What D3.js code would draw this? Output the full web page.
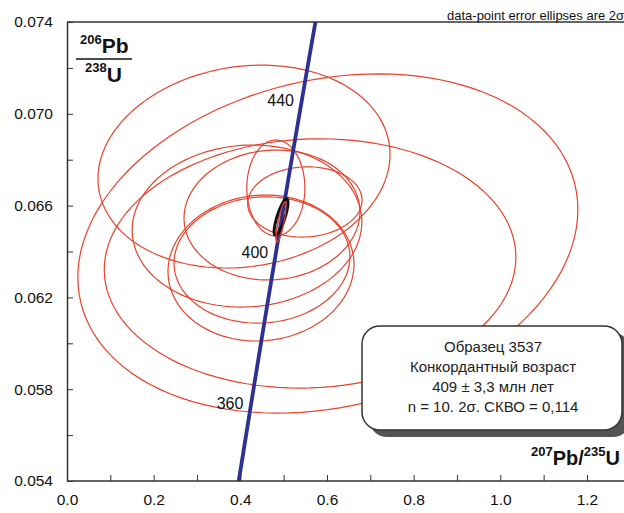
<!DOCTYPE html>
<html>
<head>
<meta charset="utf-8">
<script src="https://cdn.jsdelivr.net/npm/d3@7"></script>
<style>
  html, body { margin: 0; padding: 0; background: #fff; }
  svg { display: block; font-family: "Liberation Sans", Arial, sans-serif; }
</style>
</head>
<body>
<svg id="chart" width="624" height="513"></svg>
<script>
// ---- data ----
const xMajorTicks = [0.0, 0.2, 0.4, 0.6, 0.8, 1.0, 1.2];
const xMinorTicks = [0.0, 0.1, 0.2, 0.3, 0.4, 0.5, 0.6, 0.7, 0.8, 0.9, 1.0, 1.1, 1.2];
const yMajorTicks = [0.054, 0.058, 0.062, 0.066, 0.070, 0.074];
const yMinorTicks = [0.054, 0.056, 0.058, 0.060, 0.062, 0.064, 0.066, 0.068, 0.070, 0.072, 0.074];

// concordia curve (age Ma, 207Pb/235U, 206Pb/238U)
const concordiaAge = [330, 340, 350, 360, 370, 380, 390, 400, 410, 420, 430, 440, 450, 460, 470];
const concordiaX = [0.38403, 0.39773, 0.41156, 0.42553, 0.43964, 0.45389, 0.46828, 0.48281, 0.49749, 0.51231, 0.52727, 0.54239, 0.55765, 0.57307, 0.58864];
const concordiaY = [0.052524, 0.054158, 0.055794, 0.057434, 0.059075, 0.060720, 0.062366, 0.064016, 0.065668, 0.067322, 0.068979, 0.070639, 0.072302, 0.073967, 0.075633];
const ageLabels = [360, 400, 440];

// data points: centre, 2-sigma half-widths, error correlation
const spotX    = [0.602, 0.561, 0.4085, 0.4154, 0.4477, 0.4731, 0.450, 0.482, 0.549, 0.494];
const spotY    = [0.06435, 0.06348, 0.0677, 0.06511, 0.06328, 0.06559, 0.06363, 0.06677, 0.06616, 0.06529];
const spotErrX = [0.577, 0.475, 0.337, 0.265, 0.2146, 0.203, 0.203, 0.067, 0.132, 0.0115];
const spotErrY = [0.00739, 0.00543, 0.00442, 0.00353, 0.00318, 0.00283, 0.00275, 0.00209, 0.00153, 0.00087];
const spotRho  = [0.20, 0.05, 0.12, 0.05, 0.05, 0.05, 0.05, 0.0, 0.05, 0.8];

// concordia age ellipse
const concX = [0.494], concY = [0.0655], concErrX = [0.016], concErrY = [0.00079], concRho = [0.8];

const boxLines = ["Образец 3537", "Конкордантный возраст", "409 ± 3,3 млн лет", "n = 10. 2σ. СКВО = 0,114"];
const noteText = "data-point error ellipses are 2σ";

// ---- drawing ----
const svg = d3.select("#chart");
const L = 67, T = 22, B = 481;
const x = d3.scaleLinear().domain([0, 1.3]).range([L, L + 1.3 * 433.3]);
const y = d3.scaleLinear().domain([0.054, 0.074]).range([B, T]);

svg.append("defs").append("clipPath").attr("id", "plotClip")
  .append("rect").attr("x", L).attr("y", T).attr("width", 624 - L).attr("height", B - T);

function ellipsePts(cx, cy, ax, ay, rho) {
  const pts = [];
  const s = Math.sqrt(1 - rho * rho);
  for (let i = 0; i < 120; i++) {
    const t = i / 120 * 2 * Math.PI;
    pts.push([cx + ax * Math.cos(t), cy + ay * (rho * Math.cos(t) + s * Math.sin(t))]);
  }
  return pts;
}
const line = d3.line().x(d => x(d[0])).y(d => y(d[1]));
const closed = d3.line().x(d => x(d[0])).y(d => y(d[1])).curve(d3.curveLinearClosed);

const plot = svg.append("g").attr("clip-path", "url(#plotClip)");

// red data ellipses
plot.selectAll("path.spot").data(spotX.map((d, i) => i)).join("path")
  .attr("class", "spot")
  .attr("d", i => closed(ellipsePts(spotX[i], spotY[i], spotErrX[i], spotErrY[i], spotRho[i])))
  .attr("fill", "none").attr("stroke", "#e8412c").attr("stroke-width", 1.2);

// concordia curve
plot.append("path")
  .attr("d", line(concordiaX.map((d, i) => [d, concordiaY[i]])))
  .attr("fill", "none").attr("stroke", "#2e3192").attr("stroke-width", 3.8);

// concordia age ellipse
plot.append("path")
  .attr("d", closed(ellipsePts(concX[0], concY[0], concErrX[0], concErrY[0], concRho[0])))
  .attr("fill", "none").attr("stroke", "#111").attr("stroke-width", 3);
// the most precise spot drawn on top
plot.append("path")
  .attr("d", closed(ellipsePts(spotX[9], spotY[9], spotErrX[9], spotErrY[9], spotRho[9])))
  .attr("fill", "none").attr("stroke", "#e8412c").attr("stroke-width", 1.2);

// age labels
ageLabels.forEach(a => {
  const i = concordiaAge.indexOf(a);
  svg.append("text").attr("x", x(concordiaX[i]) - 8).attr("y", y(concordiaY[i]) + 7)
    .attr("text-anchor", "end").attr("font-size", 16).attr("fill", "#111").text(a);
});

// axes
const fmt = d3.format(".3f");
const yAxis = d3.axisLeft(y).tickValues(yMinorTicks).tickSizeInner(-6).tickSizeOuter(0).tickPadding(14)
  .tickFormat(d => yMajorTicks.some(v => Math.abs(v - d) < 1e-9) ? fmt(d) : "");
const gy = svg.append("g").attr("transform", `translate(${L},0)`).call(yAxis);
const xAxis = d3.axisBottom(x).tickValues(xMinorTicks).tickSizeInner(-6).tickSizeOuter(0).tickPadding(13)
  .tickFormat(d => xMajorTicks.some(v => Math.abs(v - d) < 1e-9) ? d3.format(".1f")(d) : "");
const gx = svg.append("g").attr("transform", `translate(0,${B})`).call(xAxis);
[gx, gy].forEach(g => {
  g.selectAll("path.domain").attr("stroke", "#333").attr("stroke-width", 1.5);
  g.selectAll(".tick line").attr("stroke", "#333").attr("stroke-width", 1);
  g.selectAll("text").attr("font-size", 15.5).attr("fill", "#111")
    .attr("font-family", '"Liberation Sans", Arial, sans-serif');
});
gx.select("path.domain").attr("d", `M${L},0H624`);
// top border
svg.append("line").attr("x1", L).attr("x2", 624).attr("y1", T).attr("y2", T)
  .attr("stroke", "#333").attr("stroke-width", 1.5);

// note top right
svg.append("text").attr("x", 447).attr("y", 20).attr("font-size", 13).attr("fill", "#111").text(noteText);

// y axis title (fraction)
const yt = svg.append("text").attr("x", 80).attr("y", 53).attr("font-weight", "bold").attr("fill", "#111");
yt.append("tspan").attr("font-size", 13).attr("dy", -9).text("206");
yt.append("tspan").attr("font-size", 21).attr("dy", 9).text("Pb");
svg.append("line").attr("x1", 76).attr("x2", 132).attr("y1", 59).attr("y2", 59).attr("stroke", "#111").attr("stroke-width", 1.6);
const yt2 = svg.append("text").attr("x", 85).attr("y", 82).attr("font-weight", "bold").attr("fill", "#111");
yt2.append("tspan").attr("font-size", 13).attr("dy", -10).text("238");
yt2.append("tspan").attr("font-size", 21).attr("dy", 10).text("U");

// x axis title
const xt = svg.append("text").attr("x", 531).attr("y", 465).attr("font-weight", "bold").attr("fill", "#111");
xt.append("tspan").attr("font-size", 13).attr("dy", -9).text("207");
xt.append("tspan").attr("font-size", 20).attr("dy", 9).text("Pb/");
xt.append("tspan").attr("font-size", 13).attr("dy", -9).text("235");
xt.append("tspan").attr("font-size", 20).attr("dy", 9).text("U");

// result box with shadow
svg.append("rect").attr("x", 369).attr("y", 333).attr("width", 262).attr("height", 104)
  .attr("rx", 18).attr("fill", "#555");
svg.append("rect").attr("x", 362).attr("y", 326).attr("width", 260).attr("height", 104)
  .attr("rx", 18).attr("fill", "#fff").attr("stroke", "#333").attr("stroke-width", 1.5);
boxLines.forEach((t, i) => {
  svg.append("text").attr("x", 493).attr("y", 352 + i * 20).attr("text-anchor", "middle")
    .attr("font-size", 15).attr("fill", "#222").text(t);
});
</script>
</body>
</html>
